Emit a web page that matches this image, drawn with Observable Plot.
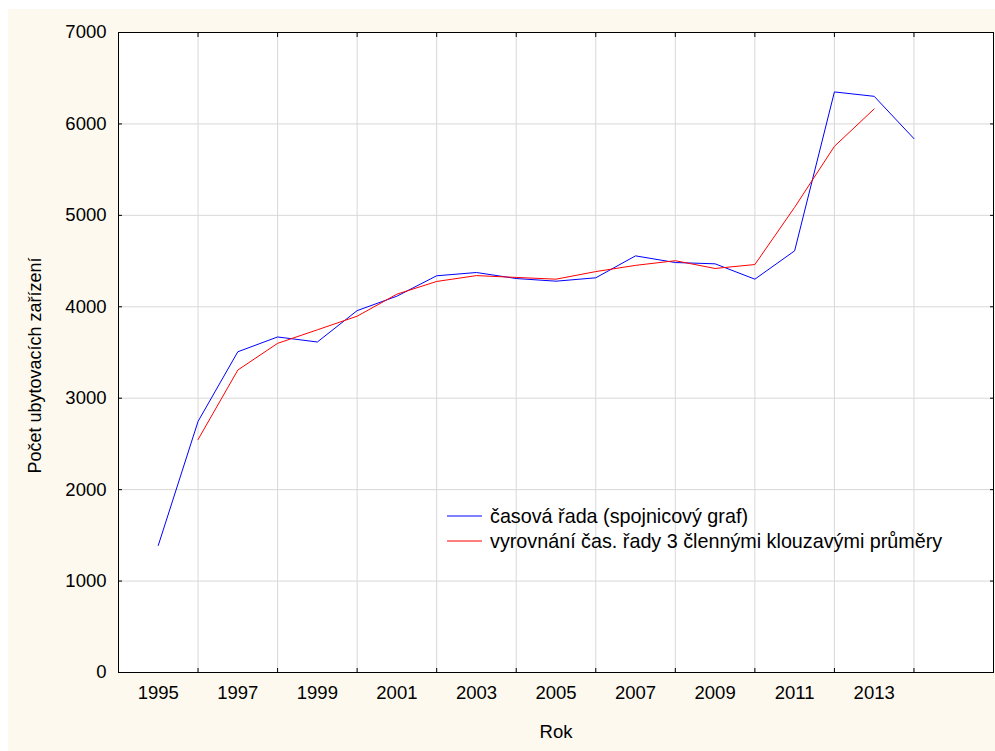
<!DOCTYPE html>
<html><head><meta charset="utf-8">
<script src="https://cdn.jsdelivr.net/npm/d3@7"></script>
<script src="https://cdn.jsdelivr.net/npm/@observablehq/plot@0.6"></script>
<style>
body{margin:0;background:#fff;}
#bg{position:absolute;left:8px;top:9px;width:987px;height:742px;background:#fdf9ef;}
#chart{position:absolute;left:0;top:0;}
</style></head><body><div id="bg"></div><div id="chart"></div>
<script>
// Data
const years = [1995,1996,1997,1998,1999,2000,2001,2002,2003,2004,2005,2006,2007,2008,2009,2010,2011,2012,2013,2014];
const seriesValues = [1390,2746,3508,3670,3615,3958,4116,4339,4375,4309,4280,4317,4557,4484,4470,4302,4612,6350,6302,5839];
const smoothYears = [1996,1997,1998,1999,2000,2001,2002,2003,2004,2005,2006,2007,2008,2009,2010,2011,2012,2013];
const smoothValues = [2548,3308,3600,3748,3897,4138,4277,4341,4321,4302,4385,4453,4504,4419,4462,5088,5755,6164];
const xTickLabels = [1995,1997,1999,2001,2003,2005,2007,2009,2011,2013];
const xGridYears = [1996,1998,2000,2002,2004,2006,2008,2010,2012,2014];
const yTicks = [0,1000,2000,3000,4000,5000,6000,7000];
const seriesNames = ["časová řada (spojnicový graf)", "vyrovnání čas. řady 3 člennými klouzavými průměry"];
const xTitle = "Rok";
const yTitle = "Počet ubytovacích zařízení";

const blue = years.map((y,i)=>({year:y, value:seriesValues[i]}));
const red = smoothYears.map((y,i)=>({year:y, value:smoothValues[i]}));

const FONT = "'Liberation Sans', Arial, sans-serif";
const chart = Plot.plot({
  width: 995, height: 751,
  marginLeft: 118, marginRight: 2, marginTop: 32, marginBottom: 79,
  style: {background: "transparent", fontFamily: FONT, fontSize: "18px", color: "#000"},
  x: {domain: [1994, 2016], axis: null},
  y: {domain: [0, 7000], axis: null},
  marks: [
    Plot.frame({fill: "white", stroke: null}),
    Plot.gridX(xGridYears, {stroke: "#d8d8d8", strokeOpacity: 1}),
    Plot.gridY(yTicks, {stroke: "#d8d8d8", strokeOpacity: 1}),
    Plot.line(blue, {x: "year", y: "value", stroke: "#0000ff", strokeWidth: 1}),
    Plot.line(red, {x: "year", y: "value", stroke: "#ff0000", strokeWidth: 1}),
    Plot.frame({stroke: "#000", strokeWidth: 1}),
    Plot.axisX(xGridYears, {anchor: "bottom", tickSize: -4, tickFormat: () => "", label: null, stroke: "#000"}),
    Plot.axisX(xGridYears, {anchor: "top", tickSize: -4, tickFormat: () => "", label: null, stroke: "#000"}),
    Plot.axisX(xTickLabels, {anchor: "bottom", tickSize: 0, tickPadding: 13, tickFormat: d => String(d), label: null, fontSize: 18.5}),
    Plot.axisY(yTicks, {anchor: "left", tickSize: -4, tickFormat: () => "", label: null, stroke: "#000"}),
    Plot.axisY(yTicks, {anchor: "right", tickSize: -4, tickFormat: () => "", label: null, stroke: "#000"}),
    Plot.axisY(yTicks, {anchor: "left", tickSize: 0, tickPadding: 12, tickFormat: d => String(d), label: null, fontSize: 18.5}),
    Plot.text([xTitle], {frameAnchor: "bottom", dy: 60, text: d => d, fontSize: 18.5, fill: "#000", lineAnchor: "middle", textAnchor: "middle"}),
    Plot.text([yTitle], {frameAnchor: "left", rotate: -90, dx: -83, dy: 13, text: d => d, fontSize: 18, fill: "#000", textAnchor: "middle", lineAnchor: "middle"})
  ]
});
document.getElementById("chart").appendChild(chart);

// Legend
const svg = d3.select(chart.tagName.toLowerCase() === "svg" ? chart : chart.querySelector("svg"));
const legendColors = ["#0000ff", "#ff0000"];
const lg = svg.append("g").attr("font-family", FONT).attr("font-size", 19.75).attr("text-anchor", "start");
seriesNames.forEach((name, i) => {
  const yy = 516 + i * 25;
  lg.append("line").attr("x1", 447).attr("x2", 482).attr("y1", yy).attr("y2", yy)
    .attr("stroke", legendColors[i]).attr("stroke-width", 1);
  lg.append("text").attr("x", 490).attr("y", yy).attr("dy", "0.35em").attr("fill", "#000")
    .attr("text-anchor", "start").text(name);
});
</script></body></html>
